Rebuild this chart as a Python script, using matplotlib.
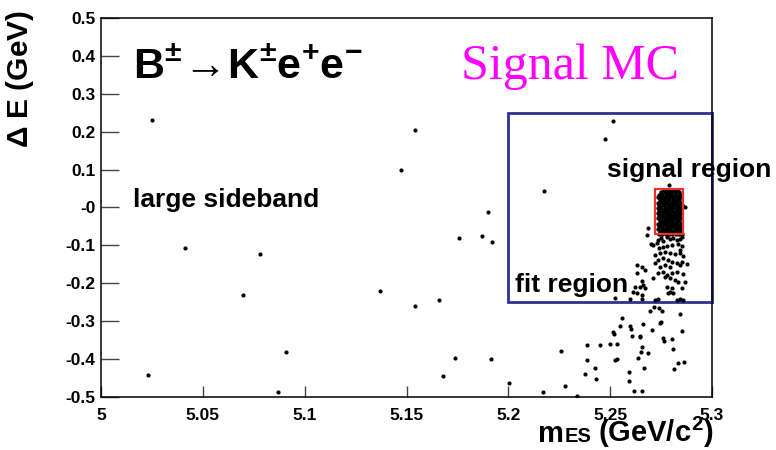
import numpy as np
import matplotlib
matplotlib.use("Agg")
import matplotlib.pyplot as plt
from matplotlib.patches import Rectangle

plt.rcParams['font.family'] = ['Liberation Sans', 'DejaVu Sans']
plt.rcParams['font.weight'] = 'bold'
plt.rcParams['mathtext.fontset'] = 'custom'
plt.rcParams['mathtext.rm'] = 'Liberation Sans:bold'
plt.rcParams['mathtext.it'] = 'Liberation Sans:bold'
plt.rcParams['mathtext.bf'] = 'Liberation Sans:bold'

# ---- signal MC events (mES, Delta E) ----
# sparse events in the large sideband
side_mes = [5.025, 5.154, 5.1475, 5.190, 5.176, 5.187, 5.192, 5.041, 5.078, 5.0696,
            5.137, 5.154, 5.166, 5.091, 5.174, 5.1915, 5.023, 5.168, 5.087, 5.2003,
            5.2514, 5.2475, 5.2177,
            5.2172, 5.226, 5.2277, 5.2337, 5.2388, 5.2386, 5.2427, 5.2375, 5.2429]
side_de = [0.232, 0.204, 0.098, -0.013, -0.080, -0.074, -0.090, -0.107, -0.124, -0.231,
           -0.220, -0.260, -0.243, -0.382, -0.396, -0.400, -0.442, -0.445, -0.486, -0.462,
           0.228, 0.181, 0.0435,
           -0.488, -0.378, -0.470, -0.497, -0.363, -0.402, -0.423, -0.440, -0.452]

# low Delta E tail below the fit region
low_mes = [5.2557, 5.2548, 5.2512, 5.2519, 5.2450, 5.2499, 5.2535, 5.2525, 5.2535,
           5.2599, 5.2604, 5.2606, 5.2646, 5.2648, 5.2661, 5.2658, 5.2651, 5.2684,
           5.2638, 5.2668, 5.2594, 5.2594, 5.2615, 5.2658, 5.2697, 5.2715, 5.2741,
           5.2754, 5.2707, 5.2748, 5.2745, 5.2758, 5.2765, 5.2802, 5.2810, 5.2841,
           5.2853, 5.2833, 5.2862, 5.2812]
low_de = [-0.291, -0.312, -0.328, -0.334, -0.363, -0.361, -0.359, -0.402, -0.401,
          -0.313, -0.321, -0.338, -0.338, -0.342, -0.308, -0.367, -0.380, -0.384,
          -0.398, -0.424, -0.433, -0.458, -0.484, -0.483, -0.273, -0.262, -0.264,
          -0.273, -0.322, -0.301, -0.306, -0.344, -0.352, -0.347, -0.373, -0.282,
          -0.326, -0.410, -0.407, -0.426]

# radiative tail inside the fit region
tail_mes = [5.2684, 5.2681, 5.2787, 5.2867,
            5.2736, 5.2750, 5.2761, 5.2777, 5.2794, 5.2810, 5.2826, 5.2843, 5.2851,
            5.2699, 5.2712, 5.2728, 5.2741, 5.2761, 5.2781, 5.2802, 5.2835, 5.2851, 5.2843,
            5.2720, 5.2745, 5.2769, 5.2794, 5.2818, 5.2843, 5.2856,
            5.2736, 5.2761, 5.2786, 5.2802, 5.2826, 5.2851,
            5.2630, 5.2655, 5.2720, 5.2745, 5.2769, 5.2794, 5.2843, 5.2876,
            5.2633, 5.2671, 5.2736, 5.2761, 5.2777, 5.2802, 5.2826, 5.2859,
            5.2658, 5.2712, 5.2769, 5.2794, 5.2818, 5.2835, 5.2867,
            5.2622, 5.2646, 5.2663, 5.2671, 5.2777, 5.2802, 5.2851,
            5.2614, 5.2630, 5.2655, 5.2786, 5.2810, 5.2794,
            5.2524, 5.2597, 5.2655, 5.2720, 5.2736, 5.2826, 5.2843, 5.2859]
tail_de = [-0.053, -0.0726, 0.0594, 0.000,
           -0.0858, -0.0814, -0.0875, -0.0787, -0.0840, -0.0814, -0.0858, -0.0831, -0.0787,
           -0.0972, -0.0999, -0.0946, -0.1078, -0.1034, -0.1016, -0.0990, -0.0963, -0.1016, -0.1122,
           -0.1254, -0.1210, -0.1166, -0.1192, -0.1227, -0.1210, -0.1280,
           -0.1386, -0.1342, -0.1386, -0.1430, -0.1474, -0.1430,
           -0.1517, -0.1561, -0.1474, -0.1561, -0.1517, -0.1561, -0.1517, -0.1491,
           -0.1737, -0.1649, -0.1737, -0.1693, -0.1781, -0.1737, -0.1693, -0.1755,
           -0.1931, -0.1869, -0.1825, -0.1869, -0.1913, -0.1957, -0.1957,
           -0.2089, -0.2089, -0.2045, -0.2133, -0.2089, -0.2133, -0.2133,
           -0.2221, -0.2265, -0.2309, -0.2265, -0.2265, -0.2221,
           -0.2397, -0.2423, -0.2423, -0.2441, -0.2423, -0.2441, -0.2415, -0.2441]

# dense core in the signal region: (Delta E, [mES values])
core_rows = [
    (0.047, [5.2762, 5.2781, 5.2797, 5.2812, 5.2828]),
    (0.041, [5.2748, 5.2768, 5.2786, 5.2801, 5.2819, 5.2836]),
    (0.034, [5.2741, 5.2757, 5.2774, 5.2790, 5.2806, 5.2824, 5.2841]),
    (0.027, [5.2737, 5.2753, 5.2769, 5.2782, 5.2799, 5.2815, 5.2831, 5.2846]),
    (0.020, [5.2743, 5.2760, 5.2776, 5.2791, 5.2808, 5.2822, 5.2839]),
    (0.013, [5.2734, 5.2749, 5.2766, 5.2781, 5.2797, 5.2813, 5.2829, 5.2848]),
    (0.006, [5.2740, 5.2757, 5.2771, 5.2788, 5.2803, 5.2818, 5.2834, 5.2851]),
    (-0.001, [5.2736, 5.2751, 5.2767, 5.2783, 5.2798, 5.2811, 5.2827, 5.2842]),
    (-0.008, [5.2742, 5.2759, 5.2775, 5.2790, 5.2806, 5.2821, 5.2837, 5.2849]),
    (-0.015, [5.2734, 5.2750, 5.2764, 5.2779, 5.2795, 5.2812, 5.2826, 5.2843]),
    (-0.022, [5.2740, 5.2756, 5.2772, 5.2787, 5.2802, 5.2817, 5.2833, 5.2848]),
    (-0.029, [5.2736, 5.2751, 5.2768, 5.2783, 5.2797, 5.2813, 5.2829, 5.2844]),
    (-0.036, [5.2743, 5.2759, 5.2774, 5.2791, 5.2806, 5.2822, 5.2838]),
    (-0.043, [5.2735, 5.2750, 5.2766, 5.2781, 5.2798, 5.2814, 5.2830, 5.2847]),
    (-0.050, [5.2741, 5.2757, 5.2773, 5.2788, 5.2804, 5.2819, 5.2835, 5.2850]),
    (-0.057, [5.2737, 5.2753, 5.2769, 5.2785, 5.2800, 5.2816, 5.2832, 5.2846]),
    (-0.064, [5.2744, 5.2761, 5.2777, 5.2793, 5.2809, 5.2826, 5.2842]),
    (-0.070, [5.2739, 5.2756, 5.2772, 5.2790, 5.2805, 5.2821, 5.2838, 5.2852]),
]

# region boundaries: (mES lo, mES hi, dE lo, dE hi)
fit_region = (5.20, 5.30, -0.25, 0.25)
signal_region = (5.272, 5.286, -0.07, 0.05)

x_ticks = [5.0, 5.05, 5.1, 5.15, 5.2, 5.25, 5.3]
x_ticklabels = ['5', '5.05', '5.1', '5.15', '5.2', '5.25', '5.3']
y_ticks = [-0.5, -0.4, -0.3, -0.2, -0.1, 0.0, 0.1, 0.2, 0.3, 0.4, 0.5]
y_ticklabels = ['-0.5', '-0.4', '-0.3', '-0.2', '-0.1', '-0', '0.1', '0.2', '0.3', '0.4', '0.5']

core_mes = [m for de, ms in core_rows for m in ms]
core_de = [de for de, ms in core_rows for m in ms]

mes = np.array(side_mes + low_mes + tail_mes)
de = np.array(side_de + low_de + tail_de)

fig = plt.figure(figsize=(7.76, 4.5), dpi=100)
ax = fig.add_axes([0.1302, 0.1178, 0.7873, 0.8422])

ax.plot(mes, de, 'o', color='black', ms=3.0, mew=0, zorder=3)
# the core is packed tightly, the dots nearly merge into one blob
ax.plot(core_mes, core_de, 'o', color='black', ms=3.2, mew=0, zorder=3)

fx0, fx1, fy0, fy1 = fit_region
ax.add_patch(Rectangle((fx0, fy0), fx1 - fx0, fy1 - fy0, fill=False,
                       edgecolor='#303090', lw=2.0, zorder=2, clip_on=False))
sx0, sx1, sy0, sy1 = signal_region
ax.add_patch(Rectangle((sx0, sy0), sx1 - sx0, sy1 - sy0, fill=False,
                       edgecolor='#e8322c', lw=1.6, zorder=4))

ax.set_xlim(5.0, 5.3)
ax.set_ylim(-0.5, 0.5)
ax.set_xticks(x_ticks)
ax.set_xticklabels(x_ticklabels)
ax.set_yticks(y_ticks)
ax.set_yticklabels(y_ticklabels)
ax.tick_params(axis='x', direction='in', length=8, width=1.0, color='#444444',
               labelsize=12.5, pad=8)
ax.tick_params(axis='y', direction='in', length=13, width=1.0, color='#444444',
               labelsize=12.5, pad=4)
for s in ax.spines.values():
    s.set_linewidth(1.1)

ax.text(5.0157, 0.0, 'large sideband', fontsize=19, fontweight='bold', va='baseline')
ax.text(5.2035, -0.222, 'fit region', fontsize=19, fontweight='bold', va='baseline')
ax.text(5.2485, 0.081, 'signal region', fontsize=19, fontweight='bold', va='baseline')

fig.text(133 / 776, 1 - 78 / 450,
         r'$\mathbf{B}^{\pm}\!\rightarrow\!\mathbf{K}^{\pm}\mathbf{e}^{+}\mathbf{e}^{-}$',
         fontsize=31, va='baseline', ha='left')
fig.text(461 / 776, 1 - 79 / 450, 'Signal MC', fontsize=36, color='#ff00ff',
         family='Liberation Serif', fontweight='normal', va='baseline', ha='left')

fig.text(20 / 776, 1 - 10 / 450, r'$\Delta$ E (GeV)', fontsize=21.5, rotation=90,
         ha='center', va='top')

# x title: "m" with a small "ES" on the baseline, then the unit
renderer = fig.canvas.get_renderer()
xt_base = 1 - 442 / 450
unit = fig.text(714 / 776, xt_base, r'(GeV/$c^{2}$)', fontsize=21,
                ha='right', va='baseline')
ux0 = unit.get_window_extent(renderer).x0 / fig.bbox.width
sub = fig.text(ux0 - 7 / 776, xt_base, 'ES', fontsize=14.5, ha='right', va='baseline')
sx0_fig = sub.get_window_extent(renderer).x0 / fig.bbox.width
fig.text(sx0_fig, xt_base, 'm', fontsize=21, ha='right', va='baseline')

fig.savefig('out.png', dpi=100)
